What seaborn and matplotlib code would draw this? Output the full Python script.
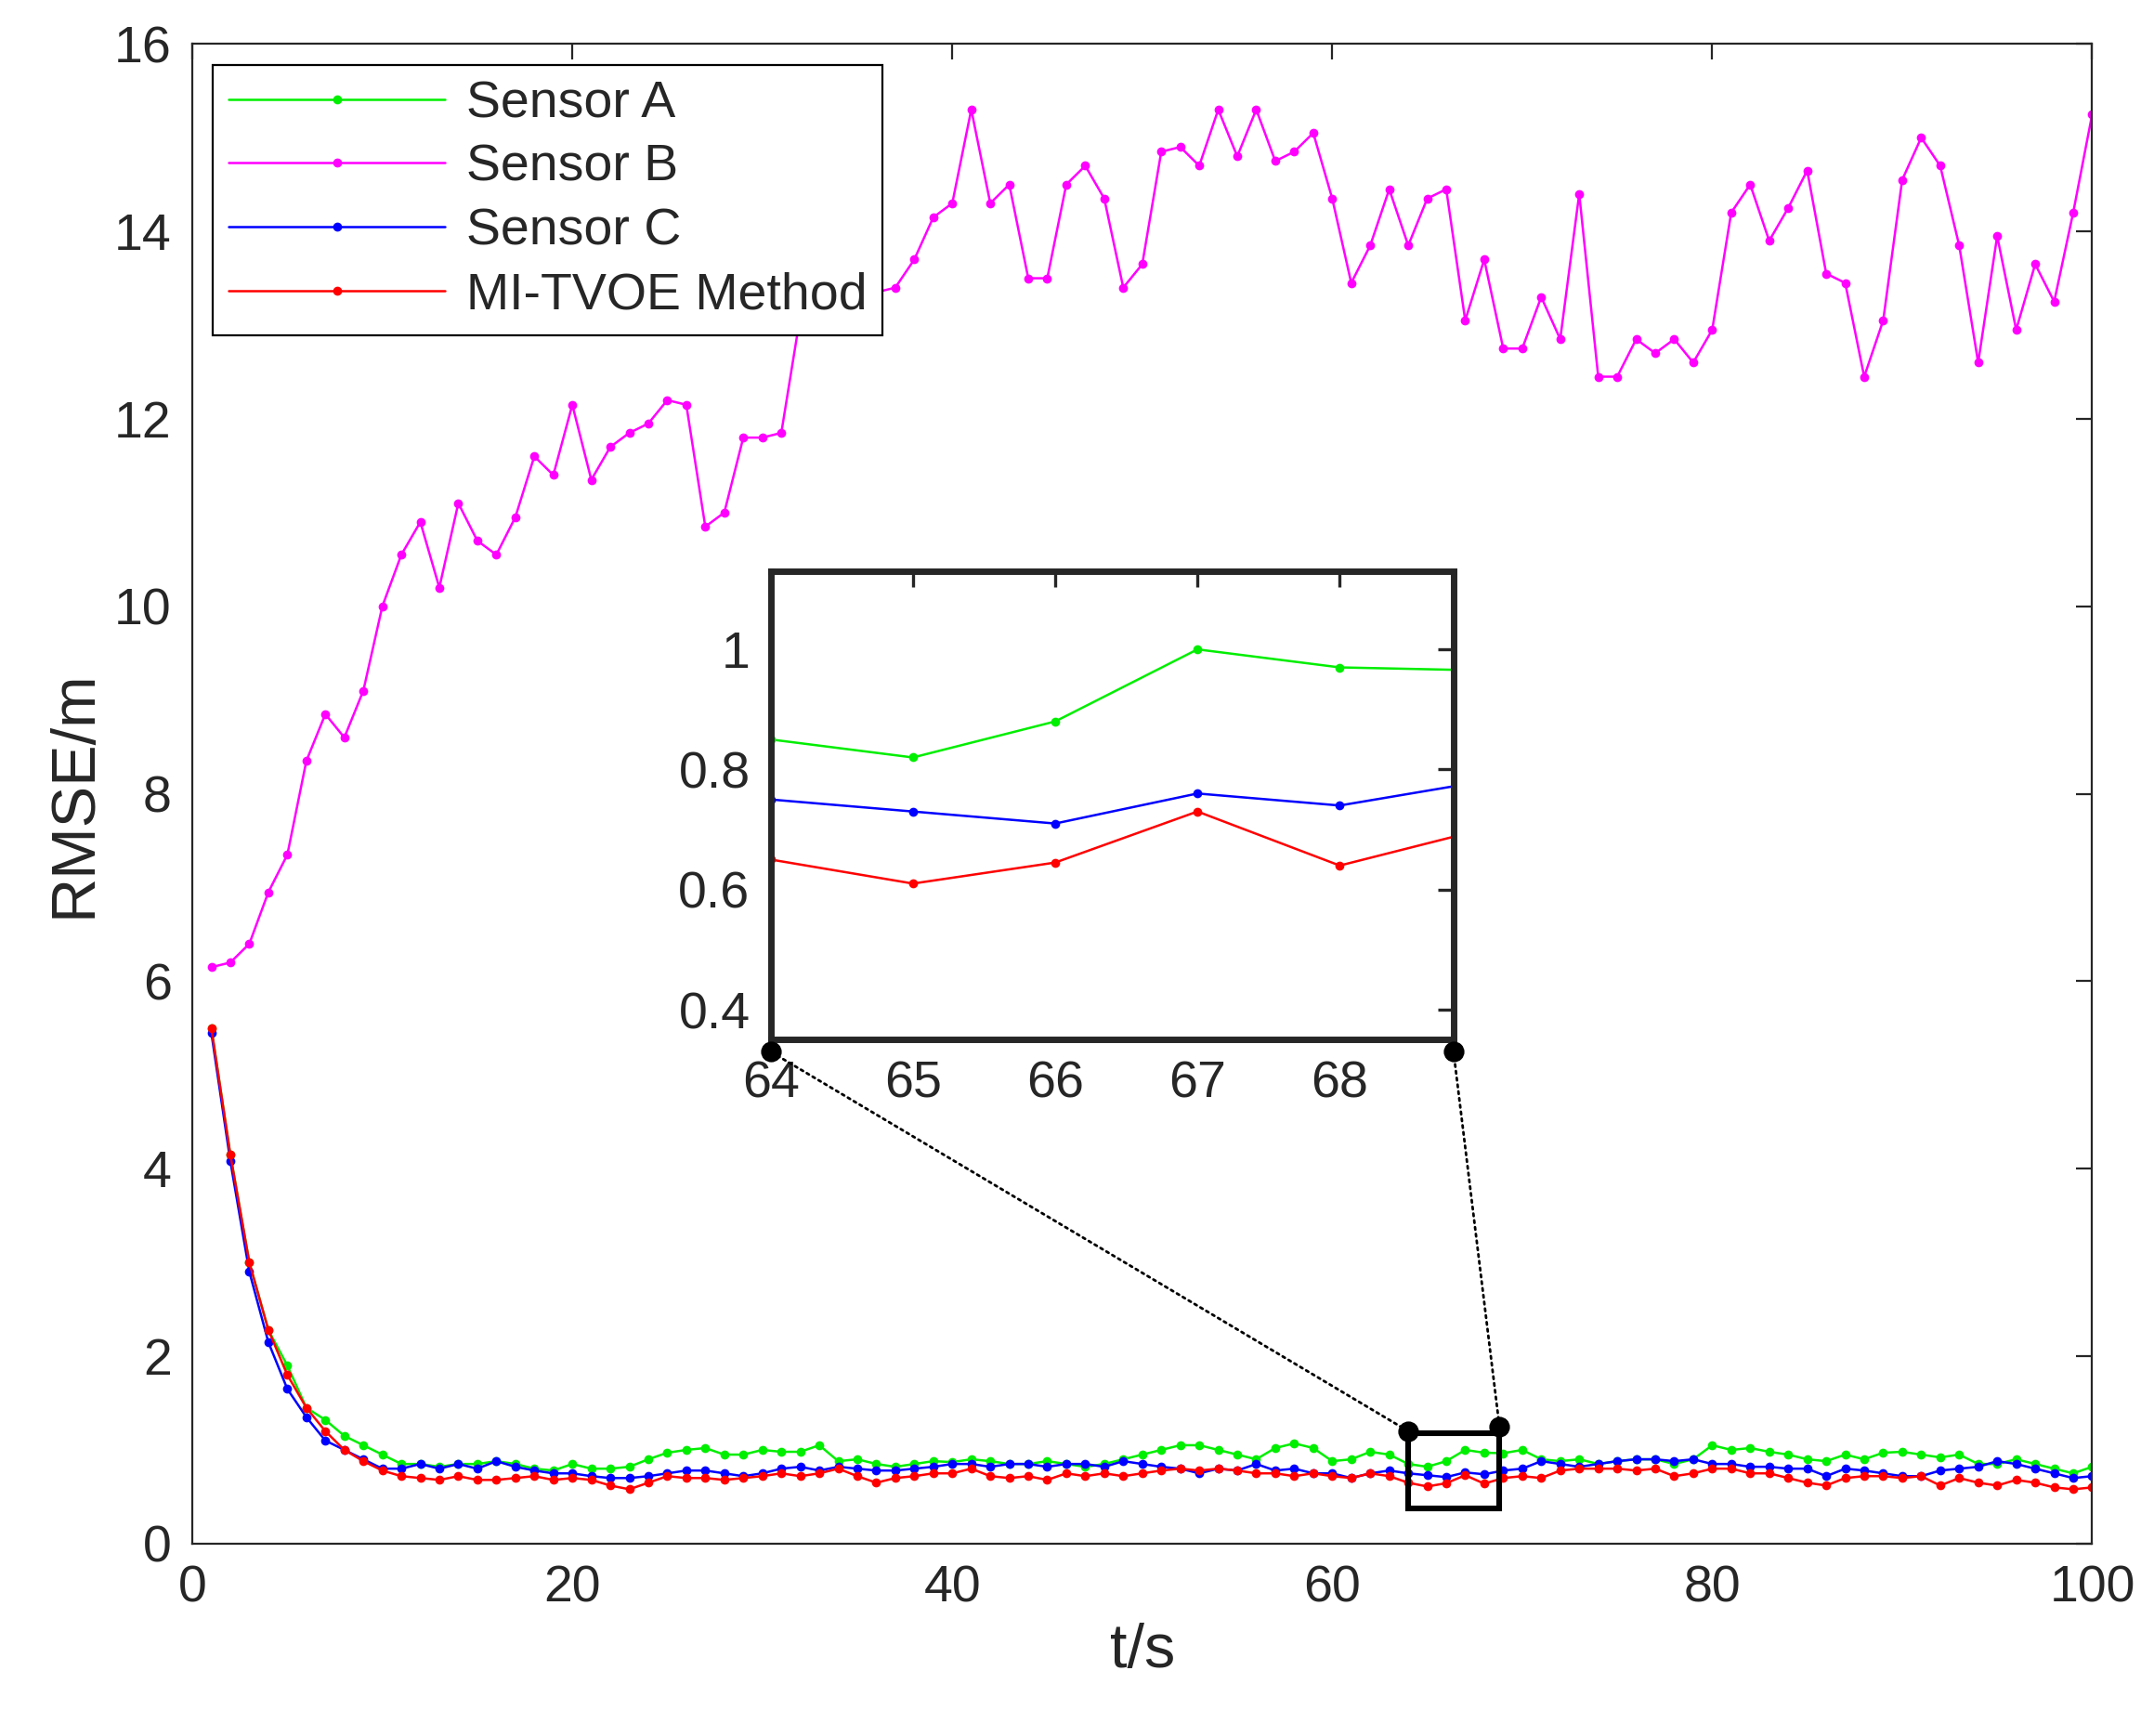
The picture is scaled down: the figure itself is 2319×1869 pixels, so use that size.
import numpy as np
import pandas as pd
import matplotlib.pyplot as plt
import seaborn as sns
from matplotlib.patches import Rectangle, ConnectionPatch

sensor_a = [5.5, 4.15, 3.0, 2.28, 1.9, 1.45, 1.32, 1.15, 1.05, 0.95, 0.85, 0.85, 0.82, 0.85, 0.85, 0.88, 0.85, 0.8, 0.78, 0.85,
            0.8, 0.8, 0.82, 0.9, 0.97, 1.0, 1.02, 0.95, 0.95, 1.0, 0.98, 0.98, 1.05, 0.88, 0.9, 0.85, 0.82, 0.85, 0.88, 0.87,
            0.9, 0.88, 0.85, 0.85, 0.88, 0.85, 0.82, 0.85, 0.9, 0.95, 1.0, 1.05, 1.05, 1.0, 0.95, 0.9, 1.02, 1.07, 1.02, 0.88,
            0.9, 0.98, 0.95, 0.85, 0.82, 0.88, 1.0, 0.97, 0.965, 1.0, 0.9, 0.88, 0.9, 0.85, 0.88, 0.9, 0.9, 0.85, 0.9, 1.05,
            1.0, 1.02, 0.98, 0.95, 0.9, 0.88, 0.95, 0.9, 0.97, 0.98, 0.95, 0.92, 0.95, 0.85, 0.85, 0.9, 0.85, 0.8, 0.75, 0.82]
sensor_b = [6.15, 6.2, 6.4, 6.95, 7.35, 8.35, 8.85, 8.6, 9.1, 10.0, 10.55, 10.9, 10.2, 11.1, 10.7, 10.55, 10.95, 11.6, 11.4, 12.15,
            11.35, 11.7, 11.85, 11.95, 12.2, 12.15, 10.85, 11.0, 11.8, 11.8, 11.85, 13.1, 13.2, 13.0, 13.2, 13.35, 13.4, 13.7, 14.15, 14.3,
            15.3, 14.3, 14.5, 13.5, 13.5, 14.5, 14.7, 14.35, 13.4, 13.65, 14.85, 14.9, 14.7, 15.3, 14.8, 15.3, 14.75, 14.85, 15.05, 14.35,
            13.45, 13.85, 14.45, 13.85, 14.35, 14.45, 13.05, 13.7, 12.75, 12.75, 13.3, 12.85, 14.4, 12.45, 12.45, 12.85, 12.7, 12.85, 12.6, 12.95,
            14.2, 14.5, 13.9, 14.25, 14.65, 13.55, 13.45, 12.45, 13.05, 14.55, 15.0, 14.7, 13.85, 12.6, 13.95, 12.95, 13.65, 13.25, 14.2, 15.25]
sensor_c = [5.45, 4.08, 2.9, 2.15, 1.65, 1.35, 1.1, 1.0, 0.9, 0.8, 0.8, 0.85, 0.8, 0.85, 0.8, 0.88, 0.82, 0.78, 0.75, 0.75,
            0.72, 0.7, 0.7, 0.72, 0.75, 0.78, 0.78, 0.75, 0.72, 0.75, 0.8, 0.82, 0.78, 0.82, 0.8, 0.78, 0.78, 0.8, 0.82, 0.85,
            0.85, 0.82, 0.85, 0.85, 0.82, 0.85, 0.85, 0.82, 0.88, 0.85, 0.82, 0.8, 0.75, 0.8, 0.78, 0.85, 0.78, 0.8, 0.75, 0.75,
            0.7, 0.75, 0.78, 0.75, 0.73, 0.71, 0.76, 0.74, 0.78, 0.8, 0.88, 0.85, 0.82, 0.85, 0.88, 0.9, 0.9, 0.88, 0.9, 0.85,
            0.85, 0.82, 0.82, 0.8, 0.8, 0.72, 0.8, 0.78, 0.75, 0.72, 0.72, 0.78, 0.8, 0.82, 0.88, 0.85, 0.8, 0.75, 0.7, 0.72]
mi_tvoe = [5.5, 4.15, 3.0, 2.28, 1.8, 1.45, 1.2, 1.0, 0.88, 0.78, 0.72, 0.7, 0.68, 0.72, 0.68, 0.68, 0.7, 0.72, 0.68, 0.7,
           0.68, 0.62, 0.58, 0.65, 0.72, 0.7, 0.7, 0.68, 0.7, 0.72, 0.75, 0.72, 0.75, 0.8, 0.72, 0.65, 0.7, 0.72, 0.75, 0.75,
           0.8, 0.72, 0.7, 0.72, 0.68, 0.75, 0.72, 0.75, 0.72, 0.75, 0.78, 0.8, 0.78, 0.8, 0.78, 0.75, 0.75, 0.72, 0.75, 0.72,
           0.7, 0.75, 0.72, 0.65, 0.61, 0.645, 0.73, 0.64, 0.70, 0.72, 0.7, 0.78, 0.8, 0.8, 0.8, 0.78, 0.8, 0.72, 0.75, 0.8,
           0.8, 0.75, 0.75, 0.7, 0.65, 0.62, 0.7, 0.72, 0.72, 0.7, 0.72, 0.62, 0.7, 0.65, 0.62, 0.68, 0.65, 0.6, 0.58, 0.6]

series = [("Sensor A", sensor_a, "#00ee00"), ("Sensor B", sensor_b, "#ff00ff"),
          ("Sensor C", sensor_c, "#0000ff"), ("MI-TVOE Method", mi_tvoe, "#ff0000")]

sns.set_style("white")
plt.rcParams['font.family'] = ['Liberation Sans', 'DejaVu Sans']
plt.rcParams['xtick.direction'] = 'in'
plt.rcParams['ytick.direction'] = 'in'
plt.rcParams['text.color'] = '#262626'
plt.rcParams['xtick.labelcolor'] = '#262626'
plt.rcParams['ytick.labelcolor'] = '#262626'
plt.rcParams['axes.labelcolor'] = '#262626'

fig = plt.figure(figsize=(11.595, 9.345), dpi=200)
ax = fig.add_axes([0.0893, 0.1108, 0.882, 0.8639])
ins = fig.add_axes([0.3578, 0.4011, 0.317, 0.2698])

for name, vals, col in series:
    t = np.arange(1, len(vals) + 1)
    df = pd.DataFrame({"t": t, "v": vals})
    sns.lineplot(data=df, x="t", y="v", ax=ax, color=col, marker="o", markersize=3.5,
                 markeredgewidth=0, linewidth=0.9, label=name)
    sub = df[(df.t >= 64) & (df.t <= 69)]
    sns.lineplot(data=sub, x="t", y="v", ax=ins, color=col, marker="o", markersize=3.5,
                 markeredgewidth=0, linewidth=0.9, legend=False)

ax.set_xlim(0, 100)
ax.set_ylim(0, 16)
ax.set_xticks(range(0, 101, 20))
ax.set_yticks(range(0, 17, 2))
ax.tick_params(labelsize=20, top=True, right=True, length=6, pad=8)
ax.set_xlabel("t/s", fontsize=24)
ax.set_ylabel("RMSE/m", fontsize=24)
for s in ax.spines.values():
    s.set_linewidth(0.8)
leg = ax.legend(loc="upper left", fontsize=20, fancybox=False, edgecolor="black",
                framealpha=1, borderaxespad=0.4, handlelength=4.2, handletextpad=0.4,
                labelspacing=0.3, borderpad=0.3)
leg.get_frame().set_linewidth(0.8)

ins.set_xlim(64, 68.8)
ins.set_ylim(0.35, 1.13)
ins.set_xticks([64, 65, 66, 67, 68])
ins.set_yticks([0.4, 0.6, 0.8, 1.0])
ins.set_yticklabels(["0.4", "0.6", "0.8", "1"])
ins.set_xlabel("")
ins.set_ylabel("")
ins.tick_params(labelsize=20, top=True, right=True, length=6, width=1.2, pad=8)
for s in ins.spines.values():
    s.set_linewidth(2.5)

ax.add_patch(Rectangle((64, 0.38), 4.8, 0.8, fill=False, edgecolor="black", linewidth=2.2, zorder=5))
for xm, ym, xi in [(64, 1.2, 64), (68.8, 1.25, 68.8)]:
    con = ConnectionPatch(xyA=(xm, ym), coordsA=ax.transData, xyB=(xi, 0.33), coordsB=ins.transData,
                          linestyle=":", color="black", linewidth=1.0)
    fig.add_artist(con)
    ax.plot(xm, ym, "o", color="black", markersize=7, zorder=6)
    ins.plot(xi, 0.33, "o", color="black", markersize=7, zorder=6, clip_on=False)

fig.savefig("out.png", dpi=200)
